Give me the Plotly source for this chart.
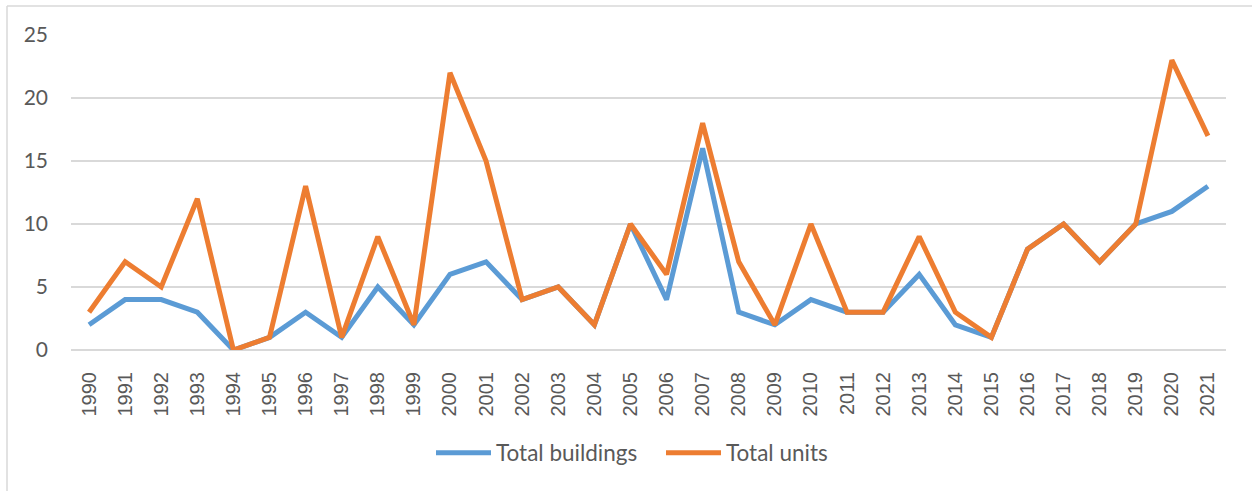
import plotly.graph_objects as go

years = [str(y) for y in range(1990, 2022)]
total_buildings = [2, 4, 4, 3, 0, 1, 3, 1, 5, 2, 6, 7, 4, 5, 2, 10, 4, 16, 3, 2, 4, 3, 3, 6, 2, 1, 8, 10, 7, 10, 11, 13]
total_units = [3, 7, 5, 12, 0, 1, 13, 1, 9, 2, 22, 15, 4, 5, 2, 10, 6, 18, 7, 2, 10, 3, 3, 9, 3, 1, 8, 10, 7, 10, 23, 17]

W, H = 1252, 491
L, R, T, B = 71, 26, 35, 141
pw, ph = W - L - R, H - T - B

fig = go.Figure()
fig.add_trace(go.Scatter(x=years, y=total_buildings, mode="lines", name="Total buildings",
                         line=dict(color="#5B9BD5", width=5), cliponaxis=False))
fig.add_trace(go.Scatter(x=years, y=total_units, mode="lines", name="Total units",
                         line=dict(color="#ED7D31", width=5), cliponaxis=False))

gray = "#595959"
fig.update_layout(
    width=W, height=H,
    margin=dict(l=L, r=R, t=T, b=B, autoexpand=False),
    paper_bgcolor="white", plot_bgcolor="white",
    font=dict(family="Lato", color=gray),
    showlegend=True,
    legend=dict(orientation="h", x=(431 - L) / pw, xanchor="left", y=-(453 - (T + ph)) / ph, yanchor="middle",
                font=dict(size=22.5, family="Lato", color=gray), traceorder="normal",
                itemwidth=55, entrywidth=160),
    xaxis=dict(type="category", tickangle=-90, showgrid=False, showline=False, ticks="",
               tickfont=dict(size=20, family="Liberation Sans", color=gray),
               ticklabelstandoff=17, range=[-0.5, 31.5]),
    yaxis=dict(range=[0, 25], dtick=5, showgrid=True, gridcolor="#D9D9D9", gridwidth=1.5,
               zeroline=True, zerolinecolor="#D9D9D9", zerolinewidth=1.5, showline=False, ticks="",
               tickfont=dict(size=21, family="Lato", color=gray), ticklabelstandoff=22),
    shapes=[
        dict(type="line", xref="paper", yref="paper",
             x0=(7 - L) / pw, x1=(W + 10 - L) / pw, y0=(H - 6 - B) / ph, y1=(H - 6 - B) / ph,
             line=dict(color="#D9D9D9", width=1.5)),
        dict(type="line", xref="paper", yref="paper",
             x0=(7 - L) / pw, x1=(7 - L) / pw, y0=(H - 6 - B) / ph, y1=-(B + 10) / ph,
             line=dict(color="#D9D9D9", width=1.5)),
    ],
)
fig.write_html("out.html", config={"displayModeBar": False},
               post_script="document.body.style.margin='0px';document.body.style.overflow='hidden';")
